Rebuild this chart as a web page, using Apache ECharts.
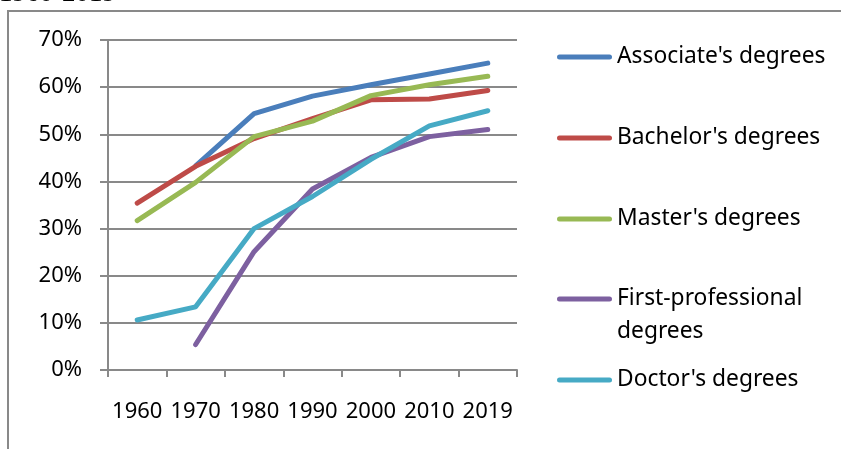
<!DOCTYPE html>
<html>
<head>
<meta charset="utf-8">
<script src="https://cdn.jsdelivr.net/npm/echarts@6/dist/echarts.min.js"></script>
<style>
  html, body { margin: 0; padding: 0; background: #ffffff; }
  #chart { width: 841px; height: 449px; }
</style>
</head>
<body>
<div id="chart"></div>
<script>
// Share of degrees conferred, by level, 1960-2019 (percent)
const years = ['1960', '1970', '1980', '1990', '2000', '2010', '2019'];
const seriesNames = [
  "Associate's degrees",
  "Bachelor's degrees",
  "Master's degrees",
  "First-professional degrees",
  "Doctor's degrees"
];
const associate = [null, 43.3, 54.4, 58.1, 60.5, 62.8, 65.1];
const bachelor = [35.4, 43.2, 49.1, 53.3, 57.3, 57.5, 59.3];
const master = [31.7, 39.8, 49.5, 52.8, 58.2, 60.5, 62.3];
const firstProfessional = [null, 5.4, 25.1, 38.4, 45.1, 49.5, 51.0];
const doctor = [10.6, 13.4, 30.0, 36.8, 44.7, 51.8, 55.0];
const yTicks = [0, 10, 20, 30, 40, 50, 60, 70];
const titleText = '1960-2019';

const seriesValues = [associate, bachelor, master, firstProfessional, doctor];
const colors = ['#4A7EBB', '#BE4B48', '#98B954', '#7D60A0', '#46AAC5'];
const axisGray = '#898989';
const FONT = '"Noto Sans", sans-serif';

const chart = echarts.init(document.getElementById('chart'), null, { renderer: 'canvas' });

// Rounded bar used as the legend key
const barIcon = 'path://M2.5,0H52.5A2.5,2.5,0,0,1,52.5,5H2.5A2.5,2.5,0,0,1,2.5,0Z';
// Same bar with an invisible speck lower down, so the bar lines up with
// the first line of a two-line label
const tallBarIcon = barIcon + ' M27,37.99H27.01V38H27Z';

// One legend block per series so each entry sits at its own height
const legendCentres = [57, 138, 219, 299, 380];
const legends = seriesNames.map((name, i) => {
  const twoLine = name === 'First-professional degrees';
  return {
    data: [name],
    orient: 'vertical',
    padding: 0,
    selectedMode: false,
    left: 557,
    top: legendCentres[i] - 16.5,
    itemWidth: 55,
    itemHeight: twoLine ? 38 : 5,
    icon: twoLine ? tallBarIcon : barIcon,
    itemStyle: { borderWidth: 0 },
    textStyle: { fontFamily: FONT, fontSize: 22.8, color: '#000', lineHeight: 33 },
    formatter: twoLine ? () => 'First-professional\ndegrees' : '{name}'
  };
});

chart.setOption({
  animation: false,
  color: colors,
  grid: { left: 108, right: 324, top: 40, bottom: 79, containLabel: false },
  legend: legends,
  graphic: [
    {
      type: 'polyline',
      shape: { points: [[8, 449], [8, 11], [841, 11]] },
      style: { stroke: axisGray, lineWidth: 2, fill: null },
      silent: true
    },
    {
      type: 'text',
      left: -1,
      top: -20,
      style: { text: titleText, font: '27px "Liberation Serif", serif', fill: '#000' },
      silent: true
    }
  ],
  xAxis: {
    type: 'category',
    data: years,
    boundaryGap: true,
    axisLine: { show: true, lineStyle: { color: axisGray, width: 2 } },
    axisTick: { show: true, interval: 0, length: 7, lineStyle: { color: axisGray, width: 2 } },
    axisLabel: { interval: 0, margin: 31, color: '#000', fontFamily: FONT, fontSize: 22 },
    splitLine: { show: false }
  },
  yAxis: {
    type: 'value',
    min: yTicks[0],
    max: yTicks[yTicks.length - 1],
    interval: 10,
    axisLine: { show: true, lineStyle: { color: axisGray, width: 2 } },
    axisTick: { show: true, length: 8, lineStyle: { color: axisGray, width: 2 } },
    axisLabel: { margin: 26, color: '#000', fontFamily: FONT, fontSize: 22, formatter: '{value}%' },
    splitLine: { show: true, lineStyle: { color: axisGray, width: 2 } }
  },
  series: seriesNames.map((name, i) => ({
    name: name,
    type: 'line',
    data: seriesValues[i],
    symbol: 'none',
    connectNulls: false,
    lineStyle: { width: 5, cap: 'round', join: 'round', color: colors[i] },
    itemStyle: { color: colors[i] },
    emphasis: { disabled: true }
  }))
});
</script>
</body>
</html>
